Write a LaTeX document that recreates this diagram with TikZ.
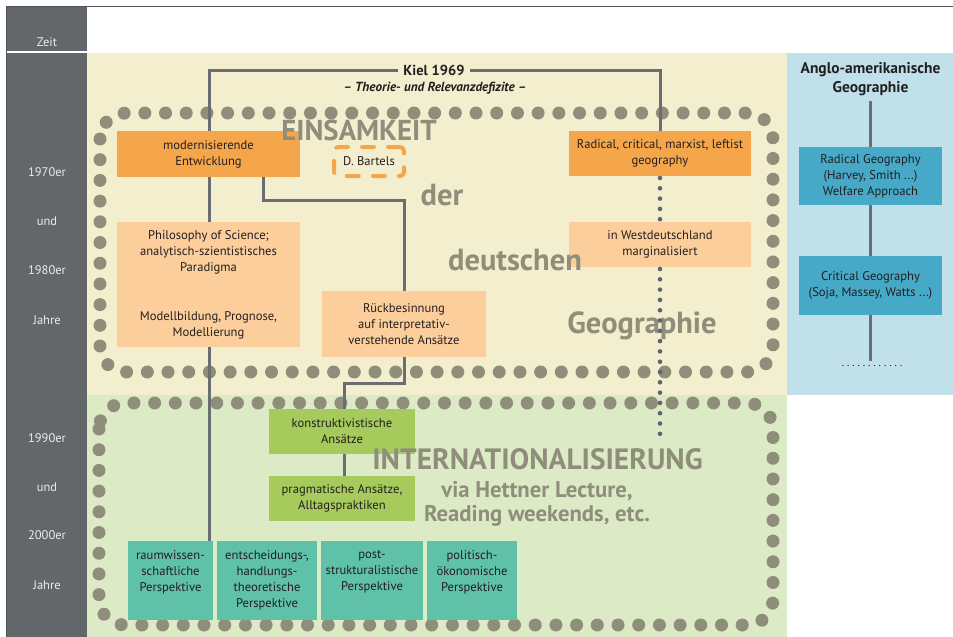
\documentclass[tikz,border=0pt]{standalone}
\usepackage{fontspec}
\setmainfont{PT Sans}
\definecolor{colbg}{HTML}{64676A}
\definecolor{frameline}{HTML}{50535A}
\definecolor{beige}{HTML}{F3EECE}
\definecolor{greenbg}{HTML}{DCEBC5}
\definecolor{bluebg}{HTML}{C0E0EA}
\definecolor{orangeD}{HTML}{F6A64A}
\definecolor{orangeL}{HTML}{FBCE9B}
\definecolor{greenD}{HTML}{A6CA5B}
\definecolor{tealbox}{HTML}{5FC1A7}
\definecolor{blueD}{HTML}{46A9C8}
\definecolor{dotbig}{HTML}{8F8E7B}
\definecolor{lineg}{HTML}{6A6D71}
\definecolor{dotsmall}{HTML}{5E6470}
\definecolor{ink}{HTML}{231F20}
\pgfdeclarelayer{back}
\pgfdeclarelayer{mid}
\pgfsetlayers{back,mid,main}
\begin{document}
\begin{tikzpicture}[x=1pt,y=-1pt,
  every node/.style={inner sep=0pt, outer sep=0pt},
  boxtext/.style={align=center, text=ink, font=\fontsize{12.6}{16}\selectfont},
  obox/.style={boxtext, fill=orangeD},
  lbox/.style={boxtext, fill=orangeL},
  gbox/.style={boxtext, fill=greenD},
  tbox/.style={fill=tealbox},
  bbox/.style={boxtext, fill=blueD},
  conn/.style={draw=lineg, line width=3pt},
  dotconn/.style={draw=dotsmall, line width=4.6pt, line cap=round, dash pattern=on 0pt off 10.3pt},
  dotframe/.style={draw=dotbig, line width=13pt, line cap=round, dash pattern=on 0pt off 20.7pt, rounded corners=26pt},
  bigtxt/.style={text=dotbig, font=\bfseries\fontsize{30.5}{32}\selectfont, anchor=base},
  subtxt/.style={text=dotbig, font=\bfseries\fontsize{22.7}{26}\selectfont, anchor=base},
  timelab/.style={text=white!92!black, font=\fontsize{12.5}{14}\selectfont}
]
\useasboundingbox (0,0) rectangle (953,637);

% ---------- background areas ----------
\begin{pgfonlayer}{back}
  \fill[white] (0,0) rectangle (953,637);
  \fill[colbg] (6,6) rectangle (87,637);
  \draw[line width=1.6pt, white] (6,52) -- (87,52);
  \fill[beige] (87,53) rectangle (787,395);
  \fill[greenbg] (87,395) rectangle (787,637);
  \fill[bluebg] (787,53) rectangle (953,395);
  \draw[line width=1.5pt, frameline] (6,6.5) -- (953,6.5);
  \draw[line width=1.5pt, frameline] (6.5,6) -- (6.5,637);
  % dotted frames of the two phases
  \draw[dotframe] (100,113) rectangle (773,372);
  \draw[dotframe] (99,403) rectangle (773,625);
\end{pgfonlayer}

% ---------- time axis ----------
\node[timelab] (zeit) at (47,42) {Zeit};
\node[timelab] (t70) at (47,172) {1970er};
\node[timelab] (tund1) at (47,221) {und};
\node[timelab] (t80) at (47,270) {1980er};
\node[timelab] (tj1) at (47,320) {Jahre};
\node[timelab] (t90) at (47,438) {1990er};
\node[timelab] (tund2) at (47,487) {und};
\node[timelab] (t00) at (47,535) {2000er};
\node[timelab] (tj2) at (47,585) {Jahre};

% ---------- header ----------
\node[font=\bfseries\fontsize{14.5}{16}\selectfont, text=ink, inner xsep=5pt] (kiel) at (434,70) {Kiel 1969};
\node[font=\bfseries\itshape\fontsize{13.2}{14}\selectfont, text=ink] (defizit) at (435,88) {– Theorie- und Relevanzdefizite –};

% ---------- German boxes ----------
\node[obox, minimum width=183, minimum height=46] (mod) at (208.5,154) {modernisierende\\Entwicklung};
\node[boxtext, draw=orangeD, line width=4pt, dash pattern=on 12pt off 14pt, line cap=round, rounded corners=4pt,
      minimum width=70, minimum height=29] (bartels) at (369,161.5) {D. Bartels};
\node[lbox, minimum width=183, minimum height=125] (phil) at (208.5,284.5)
  {Philosophy of Science;\\analytisch-szientistisches\\Paradigma\\[33pt]Modellbildung, Prognose,\\Modellierung};
\node[lbox, minimum width=164, minimum height=66] (rueck) at (404,324) {Rückbesinnung\\auf interpretativ-\\verstehende Ansätze};
\node[obox, minimum width=182, minimum height=45] (radical) at (660,153.5) {Radical, critical, marxist, leftist\\geography};
\node[lbox, minimum width=182, minimum height=45] (west) at (660,244.5) {in Westdeutschland\\marginalisiert};
\node[gbox, minimum width=146, minimum height=45] (konstr) at (342,431.5) {konstruktivistische\\Ansätze};
\node[gbox, minimum width=146, minimum height=45] (prag) at (342,498.5) {pragmatische Ansätze,\\Alltagspraktiken};

% ---------- perspectives ----------
\node[tbox, minimum width=85, minimum height=79] (t1) at (170.5,580.5) {};
\node[tbox, minimum width=100, minimum height=79] (t2) at (267,580.5) {};
\node[tbox, minimum width=102, minimum height=79] (t3) at (372,580.5) {};
\node[tbox, minimum width=90, minimum height=79] (t4) at (472,580.5) {};
\node[boxtext, anchor=north] (t1text) at (t1.north |- 0,551) {raumwissen-\\schaftliche\\Perspektive};
\node[boxtext, anchor=north] (t2text) at (t2.north |- 0,551) {entscheidungs-,\\handlungs-\\theoretische\\Perspektive};
\node[boxtext, anchor=north] (t3text) at (t3.north |- 0,551) {post-\\strukturalistische\\Perspektive};
\node[boxtext, anchor=north] (t4text) at (t4.north |- 0,551) {politisch-\\ökonomische\\Perspektive};

% ---------- Anglo-American column ----------
\node[font=\bfseries\fontsize{15.5}{18.5}\selectfont, text=ink, align=center] (anglo) at (870.5,79) {Anglo-amerikanische\\Geographie};
\node[bbox, minimum width=143, minimum height=58] (rg) at (870.5,176) {Radical Geography\\(Harvey, Smith ...)\\Welfare Approach};
\node[bbox, minimum width=143, minimum height=59] (cg) at (870.5,285.5) {Critical Geography\\(Soja, Massey, Watts ...)};
\node[font=\fontsize{11}{12}\selectfont\addfontfeature{LetterSpace=20}, text=ink] (more) at (872,366) {............};
\coordinate (btop) at (870.5,101);
\coordinate (bbot) at (870.5,361);

% ---------- large background words ----------
\node[bigtxt, font=\bfseries\fontsize{28.8}{32}\selectfont] (w1) at (359,140) {EINSAMKEIT};
\node[bigtxt] (w2) at (442,205) {der};
\node[bigtxt] (w3) at (515,270) {deutschen};
\node[bigtxt] (w4) at (642,333) {Geographie};
\node[bigtxt, font=\bfseries\fontsize{29.4}{32}\selectfont] (w5) at (537.5,469) {INTERNATIONALISIERUNG};
\node[subtxt] (w6) at (537,497) {via Hettner Lecture,};
\node[subtxt] (w7) at (537,521) {Reading weekends, etc.};

% ---------- connectors ----------
\coordinate (kl) at (209,70);
\coordinate (kr) at (660,70);
\coordinate (mr) at (263,200);
\coordinate (rk) at (344,383);
\coordinate (dotend) at (660,435);
\begin{pgfonlayer}{mid}
  \draw[conn] (kiel.west) -- (kl) -- (kl |- t1.north);
  \draw[conn] (kiel.east) -- (kr) -- (radical.north);
  \draw[conn] (mr |- mod.south) -- (mr) -- (mr -| rueck.north) -- (rueck.north);
  \draw[conn] (rueck.south) -- (rueck.south |- rk) -- (rk) -- (rk |- konstr.north);
  \draw[conn] (rk |- konstr.south) -- (rk |- prag.north);
  \draw[conn] (btop) -- (rg.north) (rg.south) -- (cg.north) (cg.south) -- (bbot);
\end{pgfonlayer}
\draw[dotconn] ([yshift=-2pt]radical.south) -- (west.north);
\draw[dotconn] ([yshift=-2pt]west.south) -- (dotend);
\end{tikzpicture}
\end{document}
